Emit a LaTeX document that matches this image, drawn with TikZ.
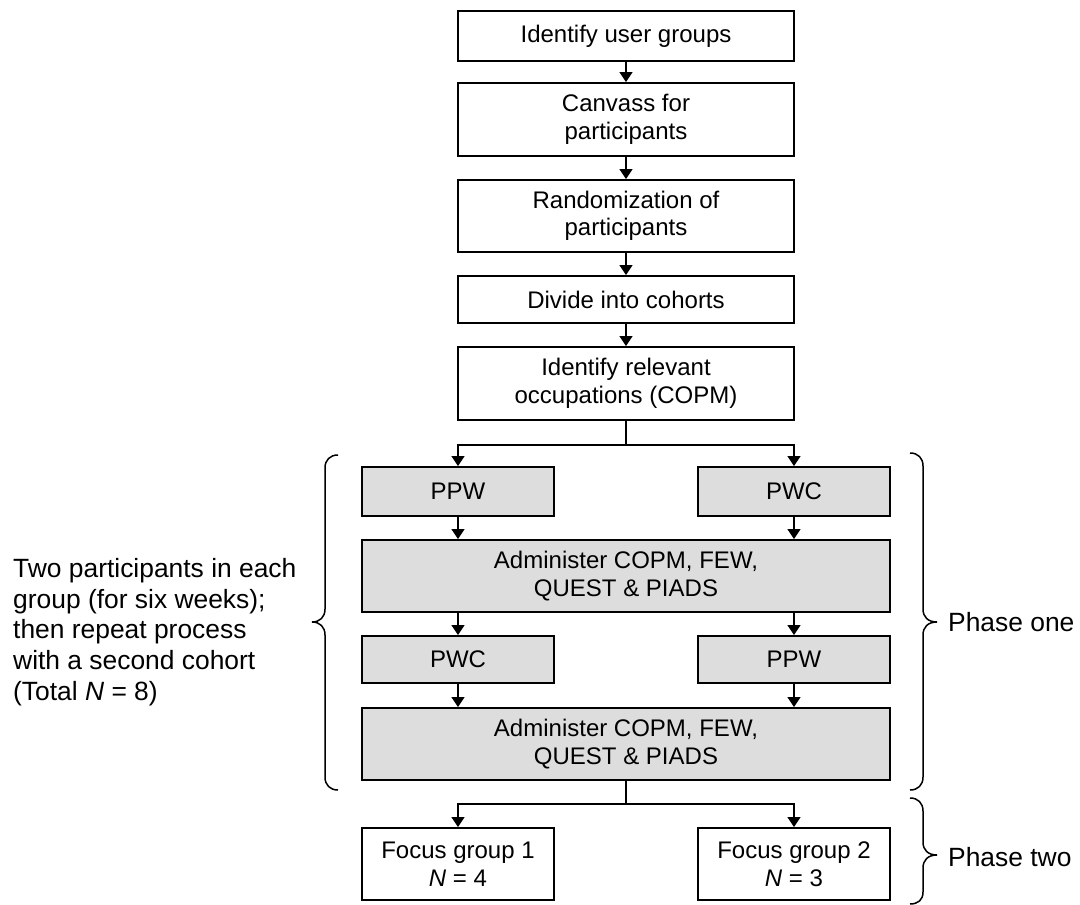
\documentclass[tikz,border=0pt]{standalone}
\usepackage{fontspec}
\setmainfont{Liberation Sans}
\usetikzlibrary{arrows.meta}
\definecolor{boxgrey}{RGB}{221,221,221}
\tikzset{
  stepbox/.style={draw=black, line width=1.9pt, fill=white, align=center,
    inner sep=0pt, font=\fontsize{24}{27.5}\selectfont},
  greybox/.style={stepbox, fill=boxgrey},
  flow/.style={line width=1.6pt, -{Triangle[width=13pt,length=10pt]}},
  plainline/.style={line width=1.6pt},
  bracestroke/.style={line width=1.5pt},
  sidelabel/.style={font=\fontsize{26.4}{30.6}\selectfont, inner sep=0pt},
}
\begin{document}
\begin{tikzpicture}[x=1pt,y=-1pt]
\useasboundingbox (0,0) rectangle (1080,905);

% recruitment steps
\node[stepbox, minimum width=336pt, minimum height=50pt] (b1) at (626,36) {Identify user groups};
\node[stepbox, minimum width=336pt, minimum height=73pt] (b2) at (626,119.5) {Canvass for\\participants};
\node[stepbox, minimum width=336pt, minimum height=72pt] (b3) at (626,216) {Randomization of\\participants};
\node[stepbox, minimum width=336pt, minimum height=47pt] (b4) at (626,299.5) {Divide into cohorts};
\node[stepbox, minimum width=336pt, minimum height=73pt] (b5) at (626,383.5) {Identify relevant\\occupations (COPM)};

% phase one: crossover
\node[greybox, minimum width=192pt, minimum height=49pt] (ppwA) at (458,491.5) {PPW};
\node[greybox, minimum width=192pt, minimum height=49pt] (pwcA) at (794,491.5) {PWC};
\node[greybox, minimum width=528pt, minimum height=72pt] (admA) at (626,576) {Administer COPM, FEW,\\QUEST \& PIADS};
\node[greybox, minimum width=192pt, minimum height=47pt] (pwcB) at (458,659.5) {PWC};
\node[greybox, minimum width=192pt, minimum height=47pt] (ppwB) at (794,659.5) {PPW};
\node[greybox, minimum width=528pt, minimum height=72pt] (admB) at (626,744) {Administer COPM, FEW,\\QUEST \& PIADS};

% phase two: focus groups
\node[stepbox, minimum width=192pt, minimum height=72pt] (fg1) at (458,864) {Focus group 1\\\textit{N} = 4};
\node[stepbox, minimum width=192pt, minimum height=72pt] (fg2) at (794,864) {Focus group 2\\\textit{N} = 3};

% connectors
\draw[flow] (b1) -- (b2);
\draw[flow] (b2) -- (b3);
\draw[flow] (b3) -- (b4);
\draw[flow] (b4) -- (b5);
\draw[plainline] (b5.south) -- ++(0,24) coordinate (splitA);
\draw[flow] (splitA) -| (ppwA.north);
\draw[flow] (splitA) -| (pwcA.north);
\draw[flow] (ppwA.south) -- (ppwA.south |- admA.north);
\draw[flow] (pwcA.south) -- (pwcA.south |- admA.north);
\draw[flow] (admA.south -| pwcB.north) -- (pwcB.north);
\draw[flow] (admA.south -| ppwB.north) -- (ppwB.north);
\draw[flow] (pwcB.south) -- (pwcB.south |- admB.north);
\draw[flow] (ppwB.south) -- (ppwB.south |- admB.north);
\draw[plainline] (admB.south) -- ++(0,23) coordinate (splitB);
\draw[flow] (splitB) -| (fg1.north);
\draw[flow] (splitB) -| (fg2.north);

% braces
\draw[bracestroke] (338,455) .. controls (330,455) and (325,460) .. (325,468)
  -- (325,609) .. controls (325,617) and (320,622) .. (312,622)
  .. controls (320,622) and (325,627) .. (325,635)
  -- (325,777) .. controls (325,785) and (330,790) .. (338,790);
\draw[bracestroke] (910,453) .. controls (918,453) and (923,458) .. (923,466)
  -- (923,609) .. controls (923,617) and (928,622) .. (937,622)
  .. controls (928,622) and (923,627) .. (923,635)
  -- (923,777) .. controls (923,785) and (918,790) .. (910,790);
\draw[bracestroke] (910,798) .. controls (918,798) and (923,803) .. (923,811)
  -- (923,842) .. controls (923,850) and (928,855) .. (937,855)
  .. controls (928,855) and (923,860) .. (923,868)
  -- (923,892) .. controls (923,900) and (918,904) .. (910,904);

% labels
\node[sidelabel, align=left, anchor=west] (note) at (13,632) {Two participants in each\\group (for six weeks);\\then repeat process\\with a second cohort\\(Total \textit{N} = 8)};
\node[sidelabel, anchor=west] (phase1) at (948,622) {Phase one};
\node[sidelabel, anchor=west] (phase2) at (948,857) {Phase two};
\end{tikzpicture}
\end{document}
